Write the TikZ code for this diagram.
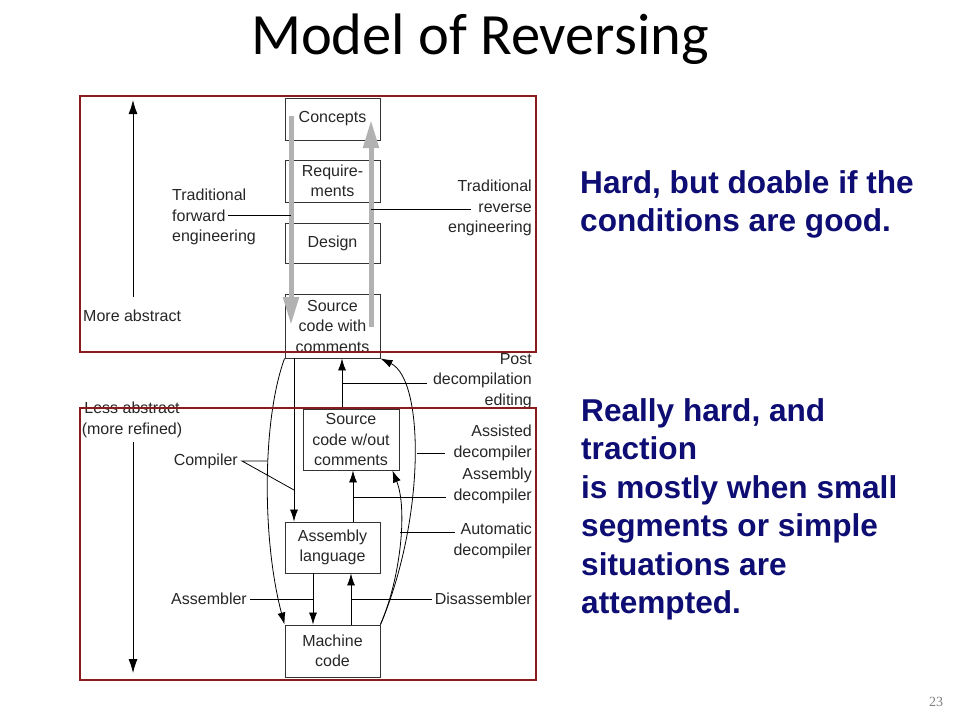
\documentclass[tikz,border=0pt]{standalone}
\usepackage{fontspec}
\setmainfont{Liberation Sans}
\newfontfamily\titlefont{Carlito}
\newfontfamily\numfont{Liberation Serif}
\usetikzlibrary{arrows.meta}
\definecolor{framered}{RGB}{139,26,26}
\definecolor{notenavy}{RGB}{13,13,115}
\definecolor{flowgray}{RGB}{178,178,178}

\begin{document}
\begin{tikzpicture}[x=1pt,y=-1pt,
  stage/.style={draw=black!80,line width=0.9pt,minimum width=95pt,align=center,inner sep=0pt,text=black!85,font=\fontsize{16}{20.5}\selectfont},
  lbl/.style={inner sep=0pt,text=black!85,font=\fontsize{16}{20.5}\selectfont},
  arr/.style={-{Latex[length=12pt,width=8pt]},line width=0.8pt},
  tie/.style={line width=0.8pt},
  flow/.style={-{Triangle[length=28pt,width=15pt]},line width=5pt,flowgray},
  frame/.style={draw=framered,line width=1.6pt},
  note/.style={anchor=north west,align=left,inner sep=0pt,text=notenavy,font=\fontsize{31.6}{38.5}\selectfont\bfseries}]
\useasboundingbox (0,0) rectangle (960,720);

\node[font=\titlefont\fontsize{58.5}{70}\selectfont] (title) at (480,39) {Model of Reversing};

% the levels
\node[stage,minimum height=42pt] (concepts) at (332.5,119) {Concepts};
\node[stage,minimum height=42pt] (reqs) at (332.5,181) {Require-\\ments};
\node[stage,minimum height=40pt] (design) at (332.5,243) {Design};
\node[stage,minimum height=64pt] (srcwith) at (332.5,326) {Source\\code with\\comments};
\node[stage,minimum width=96pt,minimum height=61pt] (srcwo) at (351,439.5) {Source\\code w/out\\comments};
\node[stage,minimum height=51pt] (asm) at (332.5,547.5) {Assembly\\language};
\node[stage,minimum height=52pt] (mach) at (332.5,651) {Machine\\code};

% forward and reverse engineering
\coordinate (fwdtop) at (291,116);
\coordinate (fwdend) at (291,325);
\coordinate (revbot) at (371,327);
\coordinate (revend) at (371,120);
\draw[flow] (fwdtop) -- (fwdend);
\draw[flow] (revbot) -- (revend);

\node[lbl,anchor=west,align=left] (fwdlbl) at (172,217) {Traditional\\forward\\engineering};
\coordinate (fwdtie) at (228,215);
\draw[tie] (fwdtie) -- (fwdtie -| fwdtop);
\node[lbl,anchor=east,align=right] (revlbl) at (532,208) {Traditional\\reverse\\engineering};
\coordinate (revtie) at (471,209);
\draw[tie] (revtie) -- (revtie -| revbot);

% abstraction axis
\node[lbl,anchor=west] (moreabs) at (83,316) {More abstract};
\node[lbl,align=center] (lessabs) at (132,420) {Less abstract\\(more refined)};
\coordinate (upbot) at (133,297);
\coordinate (uptop) at (133,100);
\coordinate (downtop) at (133,442);
\coordinate (downend) at (133,673);
\draw[-{Latex[length=14pt,width=9pt]},tie] (upbot) -- (uptop);
\draw[-{Latex[length=14pt,width=9pt]},tie] (downtop) -- (downend);

% compiling
\coordinate (compdown) at ([xshift=-38.5pt]srcwith.south);
\draw[arr] (compdown) -- (compdown |- asm.north);
\draw[arr] (srcwith.south west) .. controls (262,420) and (262,540) .. (mach.north west);
\node[lbl,anchor=east] (complbl) at (238,461) {Compiler};
\coordinate (comptie) at (242,461);
\coordinate (compcurve) at (267,461);
\coordinate (compline) at (294,490);
\draw[tie] (compcurve) -- (comptie) -- (compline);

\coordinate (asmdown) at ([xshift=-19.5pt]asm.south);
\draw[arr] (asmdown) -- (asmdown |- mach.north);
\node[lbl,anchor=east] (asmlbl) at (247,599) {Assembler};
\draw[tie] ([xshift=3pt]asmlbl.east) -- (asmlbl.east -| asmdown);

% decompiling
\coordinate (disup) at ([xshift=18.5pt]mach.north);
\draw[arr] (disup) -- (disup |- asm.south);
\node[lbl,anchor=east] (disasmlbl) at (532,599) {Disassembler};
\draw[tie] (disup |- disasmlbl.west) -- ([xshift=-3pt]disasmlbl.west);

\coordinate (asmup) at ([xshift=20.5pt]asm.north);
\draw[arr] (asmup) -- (asmup |- srcwo.south);
\node[lbl,anchor=east,align=right] (asmdeclbl) at (532,486) {Assembly\\decompiler};
\coordinate (asmdectie) at (446,497);
\draw[tie] (asmdectie -| asmup) -- (asmdectie);

\draw[arr] (mach.north east) .. controls (400,580) and (408,510) .. ([xshift=-7pt]srcwo.south east);
\node[lbl,anchor=east,align=right] (autolbl) at (532,541) {Automatic\\decompiler};
\coordinate (autocurve) at (400,532);
\coordinate (autotie) at (455,532);
\draw[tie] (autocurve) -- (autotie);

\draw[arr] (mach.north east) .. controls (425,520) and (425,380) .. (srcwith.south east);
\node[lbl,anchor=east,align=right] (assistlbl) at (532,443) {Assisted\\decompiler};
\coordinate (assistcurve) at (417,453);
\coordinate (assisttie) at (445,453);
\draw[tie] (assistcurve) -- (assisttie);

\coordinate (postup) at ([xshift=-9pt]srcwo.north);
\draw[arr] (postup) -- (postup |- srcwith.south);
\node[lbl,anchor=east,align=right] (postlbl) at (532,381) {Post\\decompilation\\editing};
\coordinate (posttie) at (427,383);
\draw[tie] (posttie -| postup) -- (posttie);

% frames
\draw[frame] (80,96) rectangle (536,352);
\draw[frame] (80,408) rectangle (536,680);

% notes
\node[note] (easynote) at (580,170) {Hard, but doable if the\\conditions are good.};
\node[note] (hardnote) at (581,398) {Really hard, and\\traction\\is mostly when small\\segments or simple\\situations are\\attempted.};

\node[font=\numfont\fontsize{14}{16}\selectfont,text=gray] (pagenum) at (936,702) {23};
\end{tikzpicture}
\end{document}
